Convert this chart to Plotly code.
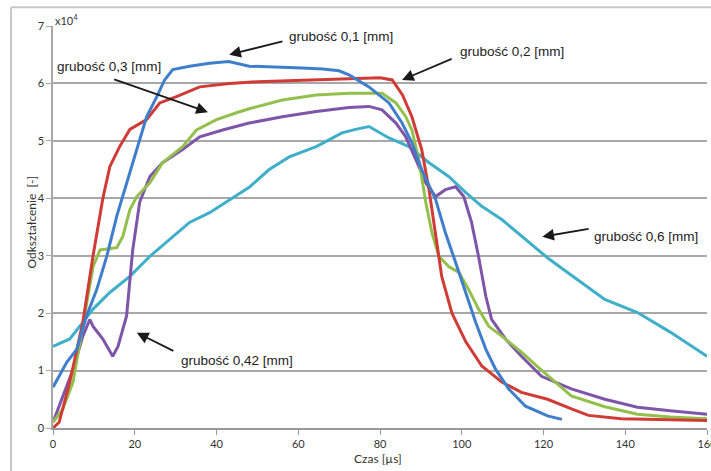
import plotly.graph_objects as go

# ---- data (values in units of 1e4) ----
t_01 = [0, 3.4, 5.8, 8.2, 10.7, 13.2, 15.6, 18, 20.5, 22.9, 25.4, 27.3, 29.3, 33.4, 38.3, 43, 48, 55, 61, 66, 70,
        72.4, 77.3, 82.2, 85.4, 87.8, 90.2, 93.6, 96, 98.5, 101, 103.4, 105.9, 108.3, 111.5, 115.6, 121, 124.5]
v_01 = [0.71, 1.15, 1.37, 1.95, 2.41, 3.0, 3.69, 4.27, 4.85, 5.42, 5.77, 6.06, 6.24, 6.3, 6.35, 6.38, 6.3, 6.29, 6.27,
        6.25, 6.22, 6.15, 5.94, 5.66, 5.31, 4.97, 4.5, 3.98, 3.4, 2.88, 2.36, 1.84, 1.37, 1.02, 0.68, 0.38, 0.21, 0.15]

t_02 = [0, 1.5, 4.1, 7.3, 9.8, 12.2, 13.9, 16.3, 18.8, 22.9, 26.1, 30.2, 35.9, 43.2, 50, 60, 70, 80, 83, 85.5, 87.8,
        90.2, 92, 93.6, 95.1, 97.6, 101, 104.9, 109.8, 114.6, 121, 127, 131, 139, 150, 160]
v_02 = [0, 0.1, 0.8, 1.84, 3.0, 4.0, 4.55, 4.9, 5.2, 5.37, 5.66, 5.77, 5.94, 6.0, 6.03, 6.05, 6.08, 6.1, 6.06, 5.8,
        5.42, 4.85, 4.15, 3.34, 2.64, 2.0, 1.5, 1.08, 0.8, 0.62, 0.5, 0.33, 0.22, 0.16, 0.14, 0.13]

t_03 = [0, 2.4, 4.9, 6.6, 8.2, 9.8, 11.5, 15.6, 17.1, 18.8, 20.5, 23.7, 26.8, 31.7, 35.1, 40, 44.9, 48, 56.1, 64.4,
        72.4, 80.5, 83.9, 86.3, 87.8, 89.5, 91.2, 92.7, 94.4, 96.8, 99.3, 101.7, 104.1, 106.6, 109.8, 114.6, 118.8,
        126.8, 135, 143, 151, 160]
v_03 = [0.1, 0.33, 0.8, 1.5, 2.19, 2.81, 3.1, 3.14, 3.34, 3.8, 4.03, 4.27, 4.62, 4.9, 5.19, 5.37, 5.49, 5.56, 5.71,
        5.8, 5.83, 5.83, 5.66, 5.42, 5.19, 4.67, 3.93, 3.4, 2.99, 2.81, 2.71, 2.41, 2.07, 1.77, 1.6, 1.32, 1.05,
        0.56, 0.37, 0.24, 0.19, 0.16]

t_042 = [0, 2.4, 4.9, 7.3, 9.0, 9.8, 12.2, 14.6, 15.9, 18, 19.5, 21.2, 23.7, 26.8, 31.7, 35.9, 41.5, 48, 56.1, 64.4,
         72.4, 77.3, 80.5, 83.9, 86.3, 88.8, 91.2, 93.6, 96, 98.5, 100.5, 102.4, 104.1, 105.9, 107.3, 110.7, 114.6,
         119.5, 126.8, 135, 143, 151, 160]
v_042 = [0.1, 0.56, 1.02, 1.6, 1.89, 1.77, 1.55, 1.25, 1.42, 1.95, 3.1, 3.93, 4.38, 4.62, 4.85, 5.07, 5.19, 5.31,
         5.42, 5.51, 5.58, 5.6, 5.54, 5.31, 5.07, 4.67, 4.27, 4.03, 4.15, 4.2, 4.03, 3.58, 2.99, 2.29, 1.89, 1.55,
         1.25, 0.9, 0.68, 0.5, 0.36, 0.3, 0.24]

t_06 = [0, 4.1, 7.3, 9.8, 13.9, 18.8, 23.7, 28.5, 33.4, 38.3, 43.2, 48, 52.9, 57.8, 64.4, 70.7, 74, 77.3, 82.2, 87.1,
        92, 96.8, 101, 104.9, 109.8, 115.6, 121.2, 128, 135, 143, 151, 160]
v_06 = [1.42, 1.55, 1.84, 2.07, 2.36, 2.64, 2.99, 3.28, 3.58, 3.75, 3.98, 4.19, 4.5, 4.72, 4.9, 5.14, 5.2, 5.25, 5.05,
        4.9, 4.62, 4.38, 4.1, 3.86, 3.63, 3.28, 2.95, 2.6, 2.24, 2.01, 1.67, 1.25]

x_ticks = [0, 20, 40, 60, 80, 100, 120, 140, 160]
y_ticks = [0, 1, 2, 3, 4, 5, 6, 7]

series = [
    ("grubość 0,6 [mm]", t_06, v_06, "#3FAFC9"),
    ("grubość 0,42 [mm]", t_042, v_042, "#7E55A9"),
    ("grubość 0,3 [mm]", t_03, v_03, "#93C04C"),
    ("grubość 0,2 [mm]", t_02, v_02, "#D13B36"),
    ("grubość 0,1 [mm]", t_01, v_01, "#3E7ECB"),
]

fig = go.Figure()
for name, t, v, c in series:
    fig.add_trace(go.Scatter(x=t, y=v, mode="lines", name=name,
                             line=dict(color=c, width=3), showlegend=False))

grid = "#A8A8A8"
fig.update_layout(
    width=711, height=471,
    margin=dict(l=53, r=4, t=26, b=43),
    paper_bgcolor="white", plot_bgcolor="white",
    font=dict(family="Lato, Open Sans, sans-serif", size=11, color="#333333"),
    xaxis=dict(range=[0, 160], tickvals=x_ticks, showgrid=False, showline=True, linecolor="#999999", linewidth=1.5,
               ticks="outside", ticklen=5, tickcolor="#999999", zeroline=False, tickfont=dict(size=11),
               ticklabeloverflow="allow", automargin=False),
    yaxis=dict(range=[0, 7], tickvals=y_ticks, showgrid=True, gridcolor=grid, gridwidth=1.5, showline=True,
               linecolor=grid, linewidth=1.5, ticks="outside", ticklen=5, tickcolor=grid, zeroline=False,
               tickfont=dict(size=11)),
)

# outer frame (chart area border)
fl, ft = -42 / 654, 421 / 402.3
fig.add_shape(type="line", xref="paper", yref="paper", x0=fl, x1=fl, y0=-0.2, y1=ft,
              line=dict(color="#C8C8C8", width=2))
fig.add_shape(type="line", xref="paper", yref="paper", x0=fl, x1=1.1, y0=ft, y1=ft,
              line=dict(color="#C8C8C8", width=2))

# axis titles & multiplier
fig.add_annotation(text="Odkształcenie  [-]", xref="paper", yref="paper", x=-0.047, y=0.513, textangle=-90,
                   showarrow=False, font=dict(size=12, color="#333333"))
fig.add_annotation(text="Czas [µs]", xref="paper", yref="paper", x=0.497, y=-0.076, yanchor="middle",
                   showarrow=False, font=dict(size=12, color="#333333"))
fig.add_annotation(text="x10<sup>4</sup>", xref="paper", yref="paper", x=0.0, y=1.015, xanchor="left",
                   yanchor="middle", showarrow=False, font=dict(size=11, color="#333333"))

# labels with arrows: (text, text_x, text_y, head_x, head_y, tail_x, tail_y)
labels = [
    ("grubość 0,1 [mm]", 70.5, 6.81, 43.1, 6.50, 56.5, 6.74),
    ("grubość 0,2 [mm]", 112.3, 6.55, 85.4, 6.06, 97.9, 6.44),
    ("grubość 0,3 [mm]", 13.7, 6.29, 37.9, 5.50, 14.6, 6.08),
    ("grubość 0,42 [mm]", 45.0, 1.17, 20.5, 1.66, 29.8, 1.33),
    ("grubość 0,6 [mm]", 145.1, 3.33, 119.7, 3.33, 131.4, 3.47),
]
for txt, tx, ty, hx, hy, ax, ay in labels:
    fig.add_annotation(text=txt, x=tx, y=ty, xref="x", yref="y", showarrow=False,
                       font=dict(family="Liberation Sans, Arial, sans-serif", size=13.5, color="#222222"))
    fig.add_annotation(text="", x=hx, y=hy, ax=ax, ay=ay, xref="x", yref="y", axref="x", ayref="y",
                       showarrow=True, arrowhead=2, arrowsize=1.3, arrowwidth=1.8, arrowcolor="#1A1A1A")

fig.write_html("out.html", config={"displayModeBar": False},
               post_script="document.body.style.margin='0px';document.body.style.overflow='hidden';")
